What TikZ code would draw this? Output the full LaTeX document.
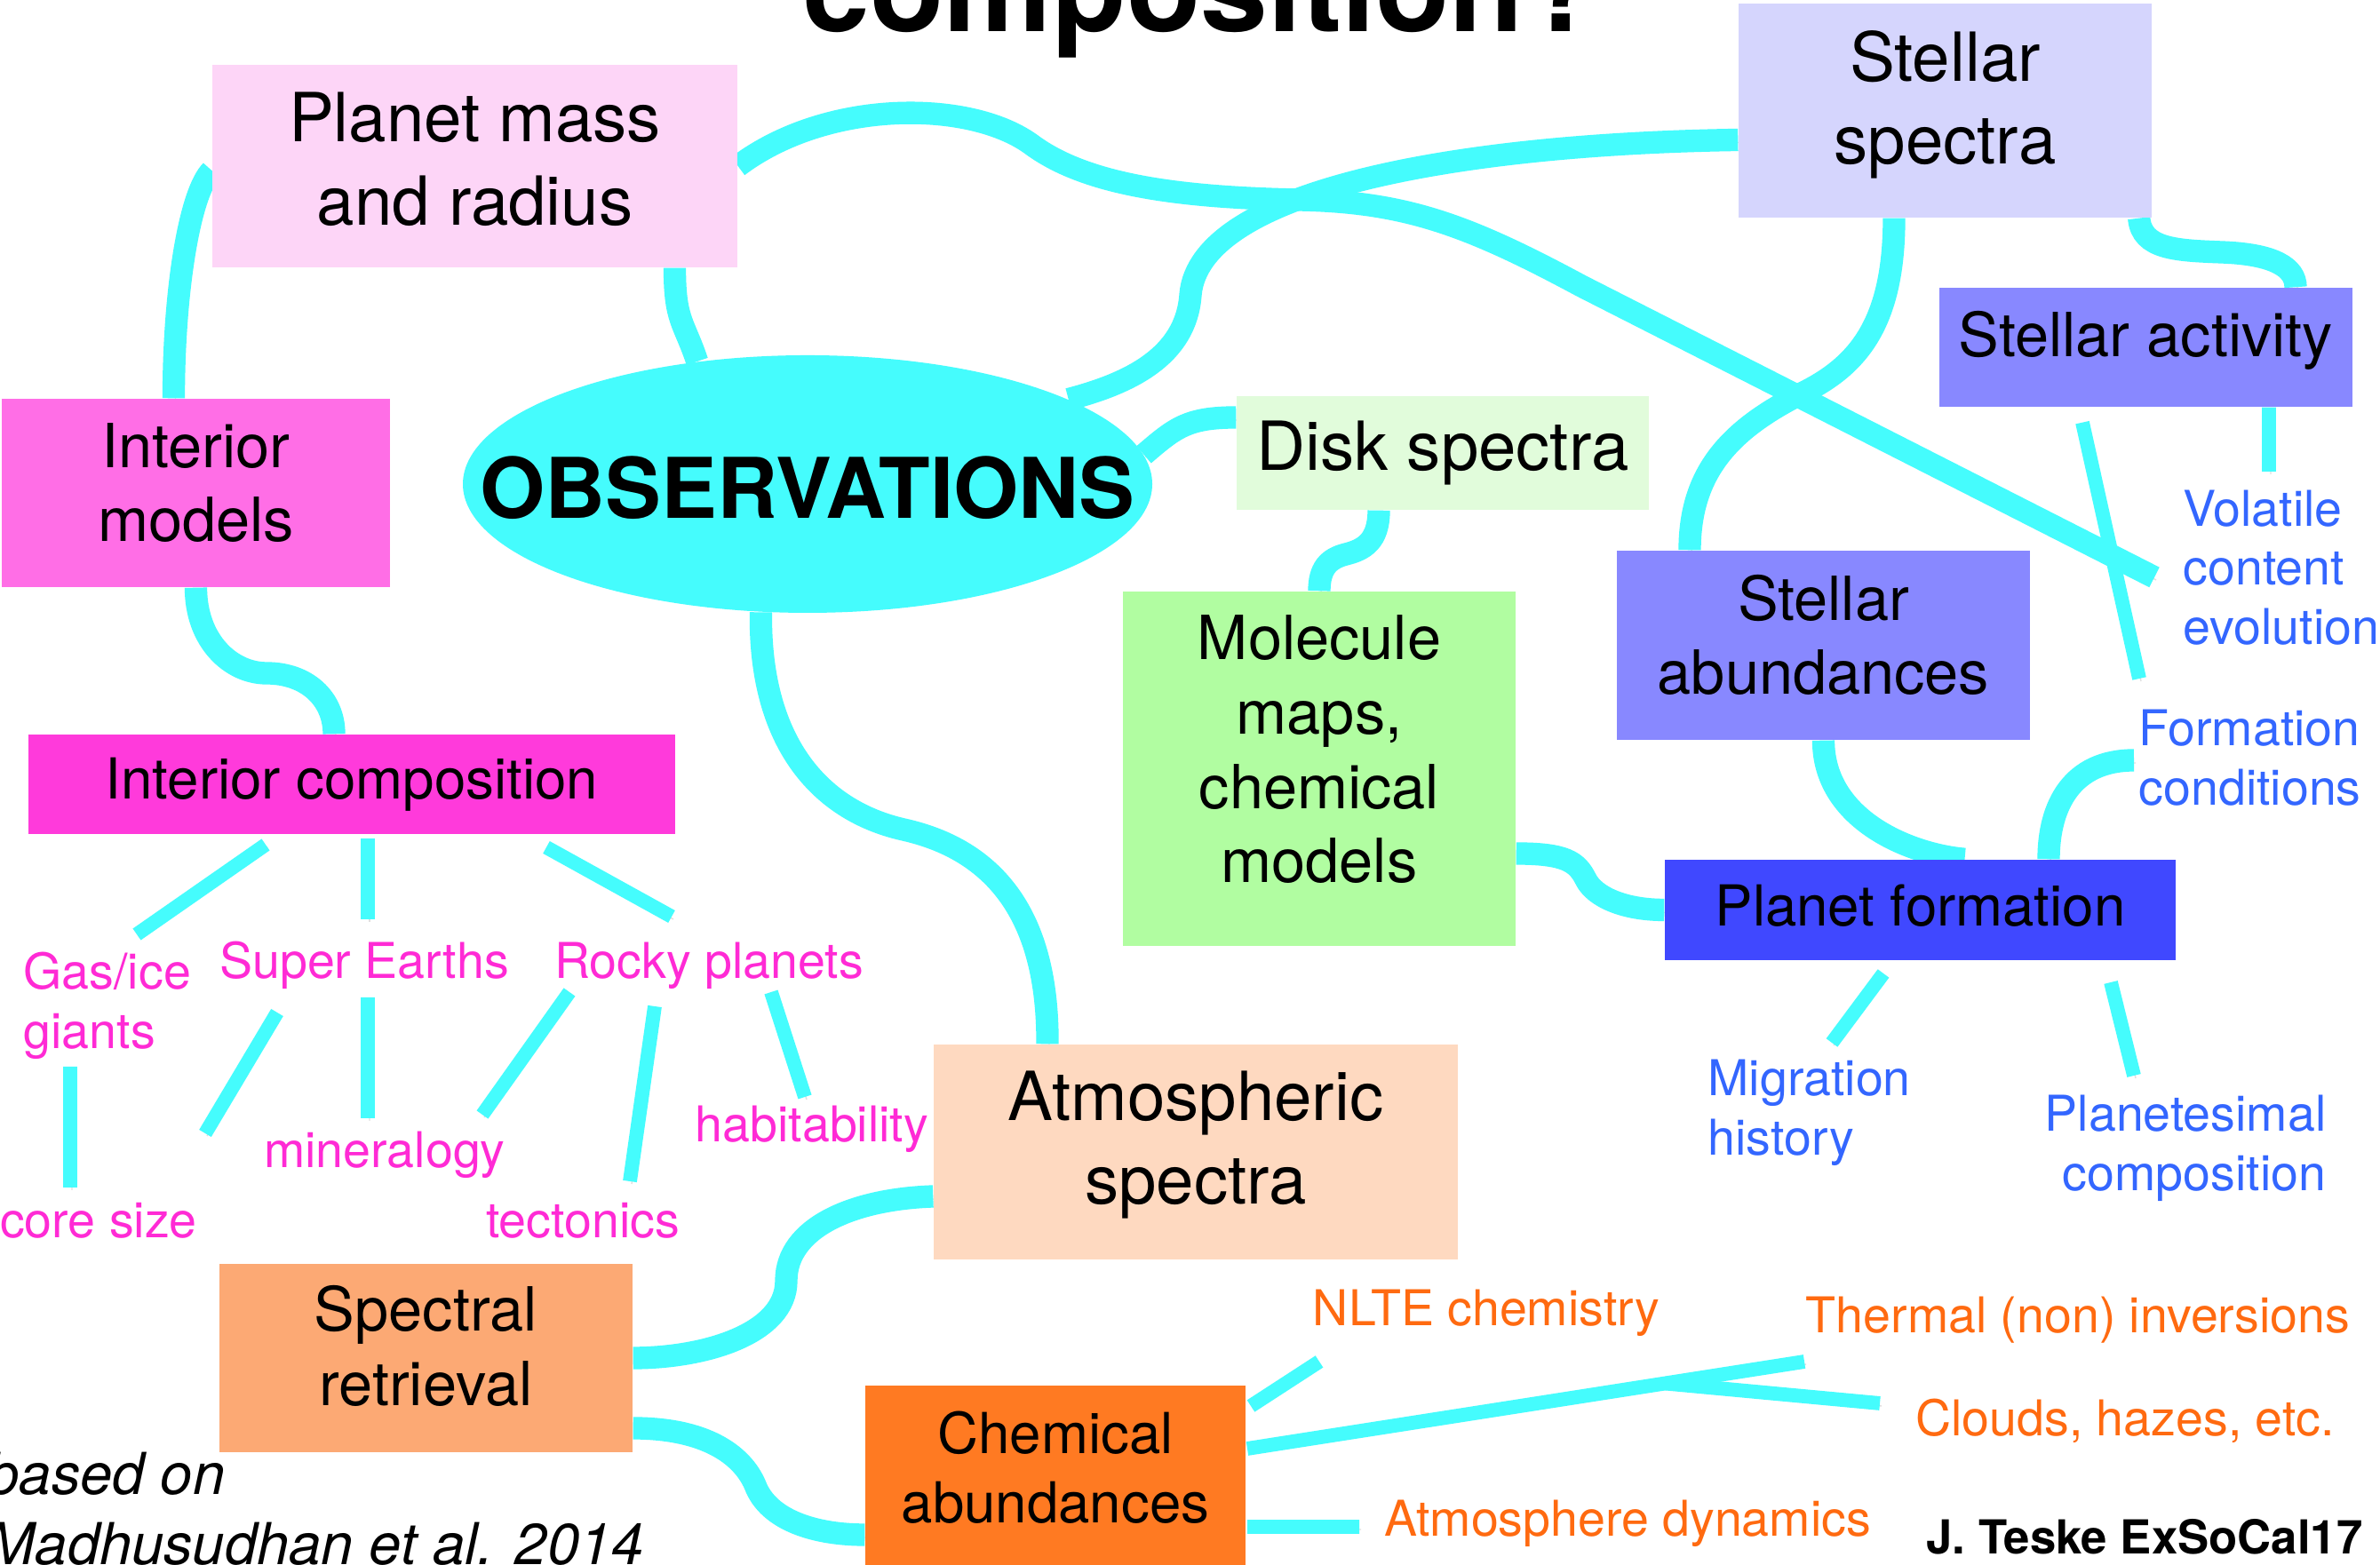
\documentclass[tikz,border=0pt]{standalone}
\usepackage{fontspec}
\setmainfont{TeX Gyre Heros}
\usepackage{tikz}
\usepackage{xcolor}
\usetikzlibrary{shapes.geometric,backgrounds}

\definecolor{ciano}{HTML}{45FCFD}
\definecolor{rosaclaro}{HTML}{FDD5F7}
\definecolor{lavanda}{HTML}{D5D5FD}
\definecolor{rosa}{HTML}{FF6EE6}
\definecolor{verdeclaro}{HTML}{E1FCDB}
\definecolor{violeta}{HTML}{8888FF}
\definecolor{verde}{HTML}{B1FDA1}
\definecolor{azul}{HTML}{4048FF}
\definecolor{cormagenta}{HTML}{FF3ADB}
\definecolor{pessego}{HTML}{FED9C0}
\definecolor{salmao}{HTML}{FCA974}
\definecolor{laranja}{HTML}{FF7A22}
\definecolor{txtrosa}{HTML}{FF2AD5}
\definecolor{txtazul}{HTML}{3366FF}
\definecolor{txtlaranja}{HTML}{FF6A10}

\begin{document}
\begin{tikzpicture}[
  caixa/.style={rectangle, inner sep=0pt, align=center},
  grande/.style={font=\fontsize{21.7}{26.7}\selectfont},
  medio/.style={font=\fontsize{19.5}{23.8}\selectfont},
  menor/.style={font=\fontsize{18.1}{22.2}\selectfont},
  rotulo/.style={inner sep=0pt, align=left, font=\fontsize{15.8}{19}\selectfont},
  ligacao/.style={draw=ciano, line width=7.2pt,
    preaction={draw=black!35, opacity=0.35, transform canvas={shift={(0.02,-0.03)}}}},
  ramo/.style={ligacao, line width=4.5pt},
]
\useasboundingbox (0,0) rectangle (26.79,17.62);

% Titulo e creditos
\node[anchor=base, inner sep=0pt, font=\fontsize{38.8}{40}\selectfont\bfseries] (titulo) at (13.51,17.26) {composition?};
\node[anchor=west, align=left, inner sep=0pt, font=\fontsize{18.5}{22.5}\selectfont\itshape] (fonte) at (-0.15,0.63) {based on\\Madhusudhan et al. 2014};
\node[inner sep=0pt, font=\fontsize{15}{18}\selectfont\bfseries] (autor) at (24.14,0.32) {J. Teske ExSoCal17};

% Caixas
\node[caixa, fill=rosaclaro, minimum width=5.91cm, minimum height=2.28cm, grande, text depth=0.16cm] (pmass) at (5.345,15.75) {Planet mass\\and radius};
\node[caixa, fill=lavanda, minimum width=4.65cm, minimum height=2.41cm, grande, text depth=0.30cm] (sspec) at (21.895,16.375) {Stellar\\spectra};
\node[caixa, fill=rosa, minimum width=4.37cm, minimum height=2.12cm, medio, text depth=0.24cm] (intmod) at (2.205,12.07) {Interior\\models};
\node[ellipse, fill=ciano, minimum width=7.76cm, minimum height=2.9cm, inner sep=0pt] (obs) at (9.09,12.17) {};
\node[font=\fontsize{26.8}{30}\selectfont\bfseries] (obstxt) at ([yshift=-0.04cm]obs.center) {OBSERVATIONS};
\node[caixa, fill=verdeclaro, minimum width=4.64cm, minimum height=1.28cm, grande] (disk) at (16.24,12.52) {Disk spectra};
\node[caixa, fill=violeta, minimum width=4.65cm, minimum height=1.34cm, medio, text depth=0.31cm] (sact) at (24.155,13.71) {Stellar activity};
\node[caixa, fill=violeta, minimum width=4.65cm, minimum height=2.13cm, medio, text depth=0.24cm] (sabund) at (20.525,10.355) {Stellar\\abundances};
\node[caixa, fill=verde, minimum width=4.42cm, minimum height=3.99cm, medio, text depth=0.44cm] (molmap) at (14.85,8.965) {Molecule\\maps,\\chemical\\models};
\node[caixa, fill=azul, minimum width=5.75cm, minimum height=1.13cm, menor, text depth=0.1cm] (pform) at (21.615,7.375) {Planet formation};
\node[caixa, fill=cormagenta, minimum width=7.28cm, minimum height=1.12cm, menor] (intcomp) at (3.96,8.79) {Interior composition};
\node[caixa, fill=pessego, minimum width=5.90cm, minimum height=2.42cm, grande, text depth=0.33cm] (atmspec) at (13.46,4.65) {Atmospheric\\spectra};
\node[caixa, fill=salmao, minimum width=4.65cm, minimum height=2.12cm, medio, text depth=0.28cm] (specret) at (4.795,2.33) {Spectral\\retrieval};
\node[caixa, fill=laranja, minimum width=4.28cm, minimum height=2.1cm, menor, text depth=0.27cm] (chemab) at (11.88,0.97) {Chemical\\abundances};

% Rotulos interiores
\node[rotulo, text=txtrosa, anchor=west] (gas) at (0.26,6.295) {Gas/ice\\giants};
\node[rotulo, text=txtrosa] (supe) at (4.10,6.75) {Super Earths};
\node[rotulo, text=txtrosa] (rocky) at (7.98,6.75) {Rocky planets};
\node[rotulo, text=txtrosa] (core) at (1.11,3.88) {core size};
\node[rotulo, text=txtrosa] (mineral) at (4.33,4.62) {mineralogy};
\node[rotulo, text=txtrosa] (tecton) at (6.56,3.88) {tectonics};
\node[rotulo, text=txtrosa] (habit) at (9.14,4.91) {habitability};

% Rotulos estelares
\node[rotulo, text=txtazul, anchor=west] (vol) at (24.57,11.23) {Volatile\\content\\evolution};
\node[rotulo, text=txtazul, anchor=west] (form) at (24.07,9.085) {Formation\\conditions};
\node[rotulo, text=txtazul, anchor=west] (migr) at (19.22,5.09) {Migration\\history};
\node[rotulo, text=txtazul, anchor=east, align=right] (plan) at (26.19,4.695) {Planetesimal\\composition};

% Rotulos atmosfericos
\node[rotulo, text=txtlaranja] (nlte) at (16.73,2.84) {NLTE chemistry};
\node[rotulo, text=txtlaranja] (thermal) at (23.39,2.76) {Thermal (non) inversions};
\node[rotulo, text=txtlaranja] (clouds) at (23.92,1.62) {Clouds, hazes, etc.};
\node[rotulo, text=txtlaranja] (dynam) at (18.32,0.47) {Atmosphere dynamics};

\begin{pgfonlayer}{background}
\fill[white] (0,0) rectangle (26.79,17.62);

% Ligacoes principais
\draw[ligacao] ([yshift=-0.05cm]pmass.west) .. controls +(-0.25,-0.25) and +(0,1.2) .. ([xshift=-0.25cm]intmod.north);
\draw[ligacao] ([xshift=2.25cm]pmass.south) .. controls +(0,-0.6) and +(-0.15,0.45) .. (obs.132);
\draw[ligacao] (pmass.east) .. controls (9.3,16.5) and (10.9,16.5) .. (11.6,16.0)
  .. controls (12.2,15.55) and (13.2,15.4) .. (14.6,15.37)
  .. controls (15.8,15.35) and (16.5,15.1) .. (17.8,14.4) -- ([shift={(-0.32,-0.11)}]vol.west);
\draw[ligacao] ([yshift=-0.33cm]sspec.west) .. controls (16.5,16.0) and (13.5,15.5) .. (13.4,14.3)
  .. controls (13.35,13.6) and (12.7,13.3) .. (obs.18);
\draw[ligacao] ([xshift=-0.575cm]sspec.south) .. controls +(0,-1.2) and +(0.6,0.3) .. (20.3,13.2)
  .. controls +(-0.8,-0.4) and +(0,0.9) .. ([xshift=-1.505cm]sabund.north);
\draw[ligacao] ([xshift=-0.15cm]sspec.south east) .. controls +(0.03,-0.35) and +(-0.5,0.02) .. (25.0,14.78)
  .. controls +(0.6,-0.02) and +(0,0.22) .. ([xshift=1.685cm]sact.north);
\draw[ligacao] ([yshift=0.4cm]disk.west) .. controls +(-0.55,0) and +(0.35,0.3) .. (obs.5);
\draw[ligacao] ([xshift=-0.72cm]disk.south) .. controls +(0,-0.35) and +(0.2,0.05) .. (15.15,11.38)
  .. controls +(-0.2,-0.05) and +(0,0.25) .. (molmap.north);
\draw[ligacao] (sabund.south) .. controls +(0,-0.9) and +(-0.6,0.05) .. ([xshift=0.5cm]pform.north);
\draw[ligacao] ([shift={(-0.05,-0.025)}]form.west) .. controls +(-0.7,0) and +(0,0.6) .. ([xshift=1.445cm]pform.north);
\draw[ligacao] ([yshift=-0.955cm]molmap.east) .. controls +(0.55,0) and +(-0.1,0.2) .. (17.85,7.72)
  .. controls +(0.1,-0.2) and +(-0.45,0) .. (pform.west);
\draw[ligacao] (intmod.south) .. controls +(0,-0.6) and +(-0.4,0) .. (3.0,10.04)
  .. controls +(0.45,0) and +(0,0.4) .. ([xshift=-0.2cm]intcomp.north);
\draw[ligacao] (obs.250) .. controls +(-0.02,-1.43) and +(-0.97,0.22) .. (10.17,8.28)
  .. controls +(1.03,-0.23) and +(0.01,1.44) .. ([xshift=-1.67cm]atmspec.north);
\draw[ligacao] ([yshift=-0.5cm]atmspec.west) .. controls +(-0.9,-0.03) and +(0,0.6) .. (8.85,3.2)
  .. controls +(0,-0.6) and +(0.8,0) .. (specret.east);
\draw[ligacao] ([yshift=-0.79cm]specret.east) .. controls +(0.8,0) and +(-0.15,0.35) .. (8.5,0.9)
  .. controls +(0.15,-0.4) and +(-0.55,0) .. ([yshift=-0.63cm]chemab.west);

% Ramos
\draw[ramo] ([shift={(-0.97,-0.68)}]intcomp.center) -- ([shift={(1.28,0.805)}]gas.west);
\draw[ramo] ([shift={(0.18,-0.61)}]intcomp.center) -- ([shift={(0.04,0.52)}]supe.center);
\draw[ramo] ([shift={(2.19,-0.71)}]intcomp.center) -- ([shift={(-0.42,0.55)}]rocky.center);
\draw[ramo] ([shift={(0.53,-0.685)}]gas.west) -- ([shift={(-0.32,0.37)}]core.center);
\draw[ramo] ([shift={(-0.98,-0.53)}]supe.center) -- ([shift={(1.20,0.98)}]core.center);
\draw[ramo] ([shift={(0.04,-0.36)}]supe.center) -- ([shift={(-0.19,0.41)}]mineral.center);
\draw[ramo] ([shift={(-1.57,-0.30)}]rocky.center) -- ([shift={(1.10,0.45)}]mineral.center);
\draw[ramo] ([shift={(-0.61,-0.46)}]rocky.center) -- ([shift={(0.53,0.44)}]tecton.center);
\draw[ramo] ([shift={(0.70,-0.30)}]rocky.center) -- ([shift={(-0.08,0.36)}]habit.center);
\draw[ramo] ([xshift=1.385cm]sact.south) -- ([shift={(0.97,1.08)}]vol.west);
\draw[ramo] ([shift={(-0.715,-0.17)}]sact.south) -- ([shift={(0.01,0.895)}]form.west);
\draw[ramo] ([shift={(-0.415,-0.715)}]pform.center) -- ([shift={(1.40,0.79)}]migr.west);
\draw[ramo] ([shift={(2.145,-0.815)}]pform.center) -- ([shift={(-2.17,0.815)}]plan.east);
\draw[ramo] ([shift={(2.20,0.82)}]chemab.center) -- ([shift={(-1.88,-0.55)}]nlte.center);
\draw[ramo] ([shift={(2.16,0.34)}]chemab.center) -- coordinate[pos=0.75] (bifurca) ([shift={(-3.08,-0.47)}]thermal.center);
\draw[ramo] (bifurca) -- ([shift={(-2.76,0.20)}]clouds.center);
\draw[ramo] ([shift={(2.16,-0.54)}]chemab.center) -- ([shift={(-3.02,-0.04)}]dynam.center);
\end{pgfonlayer}
\end{tikzpicture}
\end{document}
